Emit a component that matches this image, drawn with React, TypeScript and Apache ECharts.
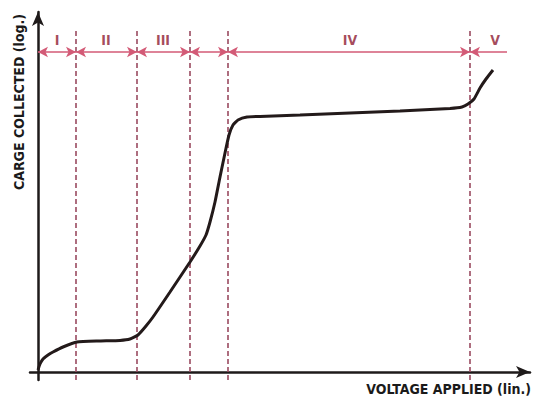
import React, { useEffect, useRef } from "react";
import * as echarts from "echarts";

// Curve: charge collected (log) vs voltage applied (lin), arbitrary units
const curveX = [0, 0.4, 1, 2, 3, 5, 7.8, 12.4, 16.4, 18.4, 20, 21.6, 23, 26.4, 30.4, 32.4, 33.6, 34.4, 35.4, 36.4, 37.4, 38.2, 39, 40, 41.8, 44.4, 52.4, 62.4, 72.4, 82.4, 84.8, 86, 87.2, 88.4, 89.6, 91];
const curveY = [0.5, 2, 3.25, 4.25, 5, 6.25, 7.5, 7.75, 7.9, 8.25, 9.25, 11.5, 13.75, 20, 27.5, 31.5, 34.25, 37.5, 42.5, 48.75, 54.75, 59.25, 61.75, 63, 63.75, 63.9, 64.25, 64.75, 65.25, 65.9, 66.25, 67, 68.25, 71, 73.25, 75.5];

// Region boundaries (voltage)
const boundaries = [7.6, 19.8, 30.4, 38, 86.4];
const regionStart = 0;
const regionEnd = 93.8;
const regionLabels = ["I", "II", "III", "IV", "V"];
const regionLabelX = [3.8, 13.6, 25, 62.4, 91.4];

const dashTop = 86;
const dashBottom = -2;
const arrowY = 80;
const labelY = 83;

const yTitle = "CARGE COLLECTED (log.)";
const xTitle = "VOLTAGE APPLIED (lin.)";

const FONT = "'Liberation Sans Narrow', 'DejaVu Sans Condensed', 'Open Sans', sans-serif";

export default function App() {
  const ref = useRef<HTMLDivElement>(null);
  useEffect(() => {
    if (!ref.current) return;
    const chart = echarts.init(ref.current, null, { renderer: "svg" });

    const edges = [regionStart, ...boundaries, regionEnd];
    const arrowData: any[] = [];
    for (let i = 0; i < edges.length - 1; i++) {
      const last = i === edges.length - 2;
      arrowData.push([
        { coord: [edges[i], arrowY], symbol: "arrow" },
        { coord: [edges[i + 1], arrowY], symbol: last ? "none" : "arrow" },
      ]);
    }

    const dashSeries = boundaries.map((b) => ({
      type: "line",
      data: [
        [b, dashBottom],
        [b, dashTop],
      ],
      symbol: "none",
      silent: true,
      clip: false,
      lineStyle: { color: "#9a4a60", width: 1.6, type: [5, 3] },
      z: 1,
    }));

    chart.setOption({
      animation: false,
      grid: { left: 30, right: 3, top: 12, bottom: 16 },
      xAxis: {
        type: "value",
        min: -1.6,
        max: 98.4,
        axisLine: {
          onZero: true,
          symbol: ["none", "arrow"],
          symbolSize: [9, 14],
          lineStyle: { color: "#1e1a1a", width: 2.5 },
        },
        axisTick: { show: false },
        axisLabel: { show: false },
        splitLine: { show: false },
      },
      yAxis: {
        type: "value",
        min: -2,
        max: 90,
        axisLine: {
          onZero: true,
          symbol: ["none", "arrow"],
          symbolSize: [9, 14],
          lineStyle: { color: "#1e1a1a", width: 2.5 },
        },
        axisTick: { show: false },
        axisLabel: { show: false },
        splitLine: { show: false },
      },
      graphic: [
        {
          type: "text",
          x: 19,
          y: 102,
          rotation: Math.PI / 2,
          style: {
            text: yTitle,
            fill: "#1a1a1a",
            font: `bold 14px ${FONT}`,
            align: "center",
            verticalAlign: "middle",
          },
        },
        {
          type: "text",
          x: 531,
          y: 389,
          style: {
            text: xTitle,
            fill: "#1a1a1a",
            font: `bold 14px ${FONT}`,
            align: "right",
            verticalAlign: "middle",
          },
        },
      ],
      series: [
        ...dashSeries,
        {
          type: "scatter",
          data: regionLabelX.map((x, i) => ({ value: [x, labelY], name: regionLabels[i] })),
          symbolSize: 0,
          silent: true,
          label: {
            show: true,
            position: "inside",
            formatter: (p: any) => p.name,
            color: "#8e1a32",
            fontFamily: FONT,
            fontWeight: "bold",
            fontSize: 14,
          },
          markLine: {
            silent: true,
            symbolSize: [8, 10],
            label: { show: false },
            lineStyle: { color: "#d35a76", width: 1.5, type: "solid" },
            data: arrowData,
          },
          z: 3,
        },
        {
          type: "line",
          data: curveX.map((x, i) => [x, curveY[i]]),
          symbol: "none",
          smooth: 0.15,
          lineStyle: { color: "#231a1a", width: 3 },
          z: 5,
        },
      ],
    });
    return () => chart.dispose();
  }, []);
  return (
    <div
      ref={ref}
      style={{ position: "fixed", left: 0, top: 0, width: 533, height: 396, background: "#fff" }}
    />
  );
}
